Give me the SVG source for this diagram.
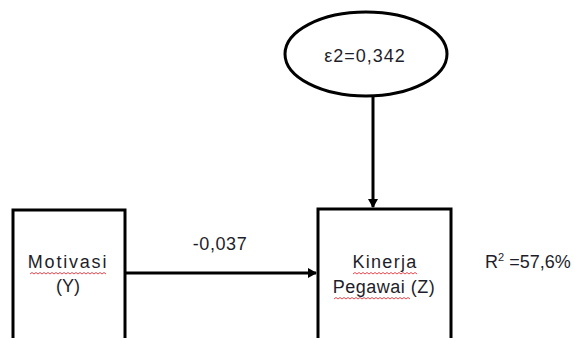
<svg xmlns="http://www.w3.org/2000/svg" width="573" height="338" viewBox="0 0 573 338">
<style>
.shape{fill:#fff;stroke:#000;stroke-width:3}
.conn{stroke:#000;stroke-width:3;fill:none}
.t{font-family:"Liberation Sans",Arial,sans-serif;font-size:18px;fill:#1e1e2a}
.wide{letter-spacing:1px}
.wavy{stroke:#e8474f;stroke-width:1;fill:none}
</style>
<defs>
<marker id="ah" markerWidth="10" markerHeight="10" refX="8" refY="5" orient="auto" markerUnits="userSpaceOnUse">
<path d="M0,0 L9,5 L0,10 Z" fill="#000"/>
</marker>
</defs>
<rect width="573" height="338" fill="#fff"/>
<g id="error">
<ellipse class="shape" cx="366" cy="54" rx="81" ry="42"/>
<text class="t wide" x="365" y="62" text-anchor="middle" font-size="20">ε2=0,342</text>
</g>
<g id="motivasi">
<rect class="shape" x="13" y="210" width="112" height="140"/>
<text class="t" x="68" y="268" text-anchor="middle" style="letter-spacing:1.8px">Motivasi</text>
<text class="t" x="68" y="292" text-anchor="middle">(Y)</text>
<path class="wavy" d="M30,274 l2,-1.5 l2,1.5 l2,-1.5 l2,1.5 l2,-1.5 l2,1.5 l2,-1.5 l2,1.5 l2,-1.5 l2,1.5 l2,-1.5 l2,1.5 l2,-1.5 l2,1.5 l2,-1.5 l2,1.5 l2,-1.5 l2,1.5 l2,-1.5 l2,1.5 l2,-1.5 l2,1.5 l2,-1.5 l2,1.5 l2,-1.5 l2,1.5 l2,-1.5 l2,1.5 l2,-1.5 l2,1.5 l2,-1.5 l2,1.5 l2,-1.5 l2,1.5 l2,-1.5 l2,1.5 l2,-1.5 l2,1.5"/>
</g>
<g id="kinerja">
<rect class="shape" x="318" y="209" width="133" height="140"/>
<text class="t" x="385" y="268" text-anchor="middle" style="letter-spacing:1.3px">Kinerja</text>
<text class="t" x="384" y="293" text-anchor="middle" style="letter-spacing:0.5px">Pegawai (Z)</text>
<path class="wavy" d="M353,274 l2,-1.5 l2,1.5 l2,-1.5 l2,1.5 l2,-1.5 l2,1.5 l2,-1.5 l2,1.5 l2,-1.5 l2,1.5 l2,-1.5 l2,1.5 l2,-1.5 l2,1.5 l2,-1.5 l2,1.5 l2,-1.5 l2,1.5 l2,-1.5 l2,1.5 l2,-1.5 l2,1.5 l2,-1.5 l2,1.5 l2,-1.5 l2,1.5 l2,-1.5 l2,1.5 l2,-1.5 l2,1.5 l2,-1.5 l2,1.5"/>
<path class="wavy" d="M334,299 l2,-1.5 l2,1.5 l2,-1.5 l2,1.5 l2,-1.5 l2,1.5 l2,-1.5 l2,1.5 l2,-1.5 l2,1.5 l2,-1.5 l2,1.5 l2,-1.5 l2,1.5 l2,-1.5 l2,1.5 l2,-1.5 l2,1.5 l2,-1.5 l2,1.5 l2,-1.5 l2,1.5 l2,-1.5 l2,1.5 l2,-1.5 l2,1.5 l2,-1.5 l2,1.5 l2,-1.5 l2,1.5 l2,-1.5 l2,1.5 l2,-1.5 l2,1.5 l2,-1.5 l2,1.5 l2,-1.5 l2,1.5"/>
</g>
<g id="rsquare">
<text class="t" x="485" y="268">R<tspan font-size="11" dy="-7">2</tspan><tspan dy="7"> =57,6%</tspan></text>
</g>
<g id="connectors">
<line class="conn" x1="373" y1="97" x2="373" y2="207" marker-end="url(#ah)"/>
<line class="conn" x1="125" y1="273" x2="316" y2="273" marker-end="url(#ah)"/>
<text class="t" x="220" y="250" text-anchor="middle" style="letter-spacing:0.6px">-0,037</text>
</g>
</svg>
